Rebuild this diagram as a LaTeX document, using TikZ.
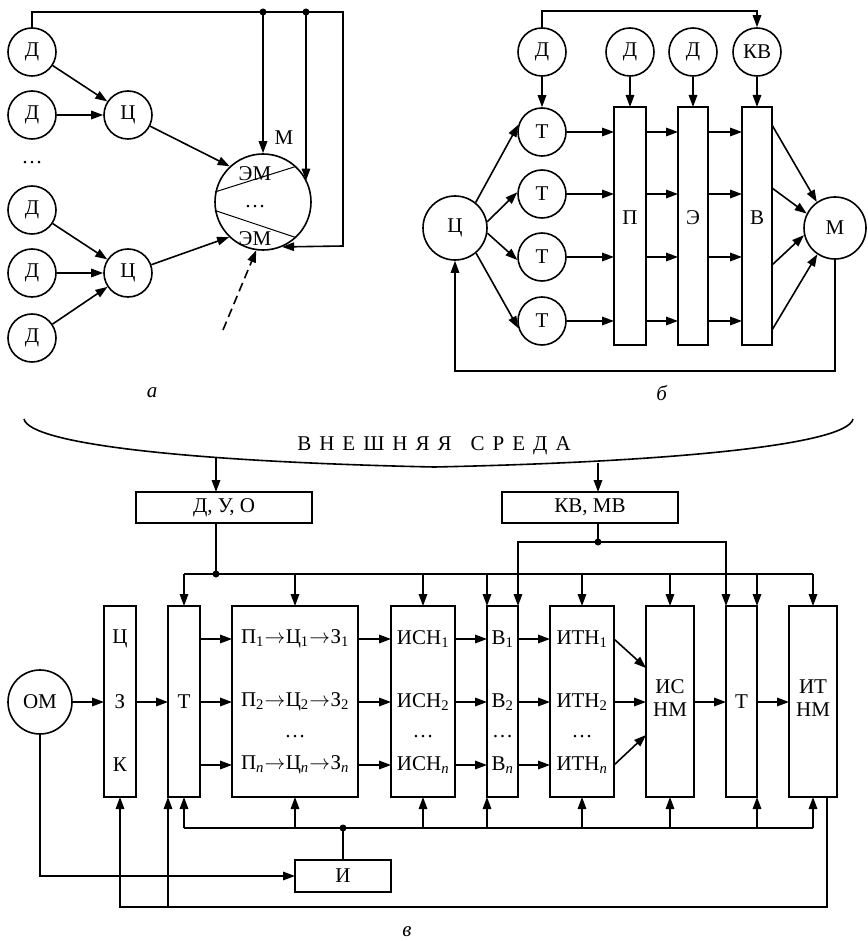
\documentclass[tikz,border=0pt]{standalone}
\usepackage{fontspec}
\setmainfont{Liberation Serif}
\usetikzlibrary{arrows.meta,calc}
\newcommand{\rarr}{\kern0.5pt\raisebox{0.5pt}{$\rightarrow$}\kern0.5pt}
\begin{document}
\begin{tikzpicture}[x=1pt,y=-1pt,
  font=\fontsize{21}{24}\selectfont,
  ln/.style={line width=1.6pt},
  arr/.style={line width=1.6pt,-{Triangle[length=12pt,width=8.5pt]}},
  circ/.style={draw,circle,line width=1.6pt,minimum size=48pt,inner sep=0pt},
  box/.style={draw,rectangle,line width=1.6pt,inner sep=0pt,outer sep=0pt},
  jdot/.style={circle,fill,inner sep=0pt,minimum size=7pt},
  lbl/.style={inner sep=0pt},
]
\useasboundingbox (0,0) rectangle (867,941);

% ---------------- panel a ----------------
\node[circ] (aD1) at (32,52) {Д};
\node[circ] (aD2) at (32,115) {Д};
\node[lbl] (aDots) at (32,163) {…};
\node[circ] (aD3) at (32,210) {Д};
\node[circ] (aD4) at (32,273) {Д};
\node[circ] (aD5) at (32,338) {Д};
\node[circ] (aC1) at (128,115) {Ц};
\node[circ] (aC2) at (128,273) {Ц};
\node[circ,minimum size=96pt] (aM) at (263,202) {};
\draw[line width=1pt] (aM.168) -- (aM.47);
\draw[line width=1pt] (aM.190) -- (aM.313);
\node[lbl] (aEM1) at (255,174) {ЭМ};
\node[lbl] (aEMd) at (255,207) {…};
\node[lbl] (aEM2) at (255,239) {ЭМ};
\node[lbl] (aMl) at (284,138) {М};

\draw[arr] (aD1) -- (aC1);
\draw[arr] (aD2) -- (aC1);
\draw[arr] (aD3) -- (aC2);
\draw[arr] (aD4) -- (aC2);
\draw[arr] (aD5) -- (aC2);
\draw[arr] (aC1) -- (aM.133);
\draw[arr] (aC2) -- (aM.226);

\coordinate (aTop) at (343,12);
\coordinate (aRB) at (343,246);
\draw[arr] (aD1.north) |- (aTop) -- (aRB) -- (aM.-67);
\node[jdot] (aJ1) at (263,12) {};
\node[jdot] (aJ2) at (306,12) {};
\draw[arr] (aJ1.center) -- (aM.north);
\draw[arr] (aJ2.center) -- (aJ2 |- aM.26);
\coordinate (aDs) at (223,330);
\draw[arr,dash pattern=on 9pt off 5pt] (aDs) -- (aM.262);
\node[lbl] (aLab) at (152,393) {\textit{а}};

% ---------------- panel b ----------------
\node[circ] (bD1) at (542,52) {Д};
\node[circ] (bD2) at (630,52) {Д};
\node[circ] (bD3) at (693,52) {Д};
\node[circ] (bKV) at (757,52) {КВ};
\node[circ] (bT1) at (542,132) {Т};
\node[circ] (bT2) at (542,194) {Т};
\node[circ] (bT3) at (542,257) {Т};
\node[circ] (bT4) at (542,321) {Т};
\node[circ,minimum size=64pt] (bC) at (455,228) {Ц};
\node[circ,minimum size=62pt] (bM) at (835,228) {М};
\node[box,minimum width=32pt,minimum height=238pt] (bP) at (630,226) {};
\node[box,minimum width=30pt,minimum height=238pt] (bE) at (693,226) {};
\node[box,minimum width=30pt,minimum height=238pt] (bV) at (757,226) {};
\node[lbl] (bPl) at (630,218) {П};
\node[lbl] (bEl) at (693,218) {Э};
\node[lbl] (bVl) at (757,218) {В};

\draw[arr] (bD1) -- (bT1);
\draw[arr] (bD2) -- (bP.north);
\draw[arr] (bD3) -- (bE.north);
\draw[arr] (bKV) -- (bV.north);
\draw[arr] (bD1.north) -- ++(0,-16) -| (bKV.north);
\foreach \t in {bT1,bT2,bT3,bT4}{
  \draw[arr] (\t) -- (\t -| bP.west);
  \draw[arr] (\t -| bP.east) -- (\t -| bE.west);
  \draw[arr] (\t -| bE.east) -- (\t -| bV.west);
}
\draw[arr] (bC.51) -- (bT1.163);
\draw[arr] (bC.11) -- (bT2.176);
\draw[arr] (bC.-9) -- (bT3.187);
\draw[arr] (bC.-50) -- (bT4.197);
\coordinate (bV1) at (772,125);
\coordinate (bV2) at (772,188);
\coordinate (bV3) at (772,265);
\coordinate (bV4) at (772,330);
\draw[arr] (bV1) -- (bM.125);
\draw[arr] (bV2) -- (bM.153);
\draw[arr] (bV3) -- (bM.193);
\draw[arr] (bV4) -- (bM.236);
\coordinate (bBL) at (455,371);
\draw[arr] (bM.south) |- (bBL) -- (bC.south);
\node[lbl] (bLab) at (662,393) {\textit{б}};

% ---------------- environment ----------------
\coordinate (envL) at (24,419);
\coordinate (envM) at (434,467);
\coordinate (envR) at (853,419);
\draw[ln] (envL) .. controls (30,445) and (200,462) .. (envM)
              .. controls (670,462) and (847,445) .. (envR);
\node[lbl] (env) at (434,446) {В\hspace{8pt}Н\hspace{8pt}Е\hspace{8pt}Ш\hspace{8pt}Н\hspace{8pt}Я\hspace{8pt}Я\hspace{19pt}С\hspace{8pt}Р\hspace{8pt}Е\hspace{8pt}Д\hspace{8pt}А};
\coordinate (cL) at (216,457.5);
\coordinate (cR) at (598,463);
\node[box,minimum width=176pt,minimum height=31pt] (cDUO) at (224,507.5) {Д, У, О};
\node[box,minimum width=176pt,minimum height=31pt] (cKV) at (590,507.5) {КВ, МВ};
\draw[arr] (cL) -- (cL |- cDUO.north);
\draw[arr] (cR) -- (cR |- cKV.north);

% ---------------- panel v ----------------
\coordinate (busT) at (0,574);
\coordinate (busB) at (0,828);
\coordinate (row1) at (0,639);
\coordinate (row2) at (0,702);
\coordinate (row3) at (0,765);

\node[circ,minimum size=64pt] (vOM) at (40,702) {ОМ};
\node[box,minimum width=32pt,minimum height=191pt] (vCZK) at (120,701.5) {};
\node[box,minimum width=32pt,minimum height=191pt] (vT) at (184,701.5) {Т};
\node[box,minimum width=126pt,minimum height=191pt] (vP) at (295,701.5) {};
\node[box,minimum width=64pt,minimum height=191pt] (vISN) at (423,701.5) {};
\node[box,minimum width=31pt,minimum height=191pt] (vB) at (502.5,701.5) {};
\node[box,minimum width=64pt,minimum height=191pt] (vITN) at (582,701.5) {};
\node[box,minimum width=48pt,minimum height=191pt] (vISNM) at (670,701.5) {};
\node[box,minimum width=31pt,minimum height=191pt] (vT2) at (741.5,701.5) {Т};
\node[box,minimum width=48pt,minimum height=191pt] (vITNM) at (813,701.5) {};
\node[box,minimum width=96pt,minimum height=32pt] (vI) at (343,876) {И};

\node[lbl] (vCZK1) at (120,639) {Ц};
\node[lbl] (vCZK2) at (120,702) {З};
\node[lbl] (vCZK3) at (120,765) {К};
\node[lbl] (vP1) at (295,639) {П\textsubscript{1}\rarr Ц\textsubscript{1}\rarr З\textsubscript{1}};
\node[lbl] (vP2) at (295,702) {П\textsubscript{2}\rarr Ц\textsubscript{2}\rarr З\textsubscript{2}};
\node[lbl] (vPd) at (295,737) {…};
\node[lbl] (vP3) at (295,765) {П\textsubscript{\textit{n}}\rarr Ц\textsubscript{\textit{n}}\rarr З\textsubscript{\textit{n}}};
\node[lbl] (vISN1) at (423,639) {ИСН\textsubscript{1}};
\node[lbl] (vISN2) at (423,702) {ИСН\textsubscript{2}};
\node[lbl] (vISNd) at (423,737) {…};
\node[lbl] (vISN3) at (423,765) {ИСН\textsubscript{\textit{n}}};
\node[lbl] (vB1) at (502.5,639) {В\textsubscript{1}};
\node[lbl] (vB2) at (502.5,702) {В\textsubscript{2}};
\node[lbl] (vBd) at (502.5,737) {…};
\node[lbl] (vB3) at (502.5,765) {В\textsubscript{\textit{n}}};
\node[lbl] (vITN1) at (582,639) {ИТН\textsubscript{1}};
\node[lbl] (vITN2) at (582,702) {ИТН\textsubscript{2}};
\node[lbl] (vITNd) at (582,737) {…};
\node[lbl] (vITN3) at (582,765) {ИТН\textsubscript{\textit{n}}};
\node[lbl] (vISNMa) at (670,687) {ИС};
\node[lbl] (vISNMb) at (670,710) {НМ};
\node[lbl] (vITNMa) at (813,687) {ИТ};
\node[lbl] (vITNMb) at (813,710) {НМ};

% top bus
\node[jdot] (vJ1) at (216,574) {};
\draw[ln] (vJ1 |- cDUO.south) -- (vJ1.center);
\draw[ln] (vT.north |- busT) -- (vITNM.north |- busT);
\foreach \n in {vT,vP,vISN,vITN,vISNM,vITNM}{
  \draw[arr] (\n.north |- busT) -- (\n.north);
}
\draw[arr] (vB.north west |- busT) -- (vB.north west);
\draw[arr] (vT2.north east |- busT) -- (vT2.north east);
\node[jdot] (vJ2) at (598,542) {};
\draw[ln] (vJ2 |- cKV.south) -- (vJ2.center);
\draw[arr] (vJ2.center) -| (vB.north east);
\draw[arr] (vJ2.center) -| (vT2.north west);

% bottom bus
\draw[ln] (vT.south |- busB) -- (vITNM.south |- busB);
\foreach \n in {vT,vP,vISN,vITN,vISNM,vITNM}{
  \draw[arr] (\n.south |- busB) -- (\n.south);
}
\draw[arr] (vB.south west |- busB) -- (vB.south west);
\draw[arr] (vT2.south east |- busB) -- (vT2.south east);
\node[jdot] (vJ3) at (vI.north |- busB) {};
\draw[ln] (vI.north) -- (vJ3.center);
\draw[arr] (vOM.south) |- (vI.west);

% feedback
\draw[arr] ($(vITNM.south)+(14,0)$) -- ++(0,110) -| (vCZK.south);
\coordinate (vFB) at (168,907);
\draw[arr] (vT.south west |- vFB) -- (vT.south west);

% row connections
\draw[arr] (vOM.east) -- (vCZK.west |- vOM.east);
\draw[arr] (vCZK.east |- row2) -- (vT.west |- row2);
\foreach \r in {row1,row2,row3}{
  \draw[arr] (vT.east |- \r) -- (vP.west |- \r);
  \draw[arr] (vP.east |- \r) -- (vISN.west |- \r);
  \draw[arr] (vISN.east |- \r) -- (vB.west |- \r);
  \draw[arr] (vB.east |- \r) -- (vITN.west |- \r);
}
\draw[arr] (vITN.east |- row1) -- ($(vISNM.west)+(0,-33.5)$);
\draw[arr] (vITN.east |- row2) -- (vISNM.west |- row2);
\draw[arr] (vITN.east |- row3) -- ($(vISNM.west)+(0,33.5)$);
\draw[arr] (vISNM.east |- row2) -- (vT2.west |- row2);
\draw[arr] (vT2.east |- row2) -- (vITNM.west |- row2);

\node[lbl] (vLab) at (407,932) {\textit{в}};
\end{tikzpicture}
\end{document}
